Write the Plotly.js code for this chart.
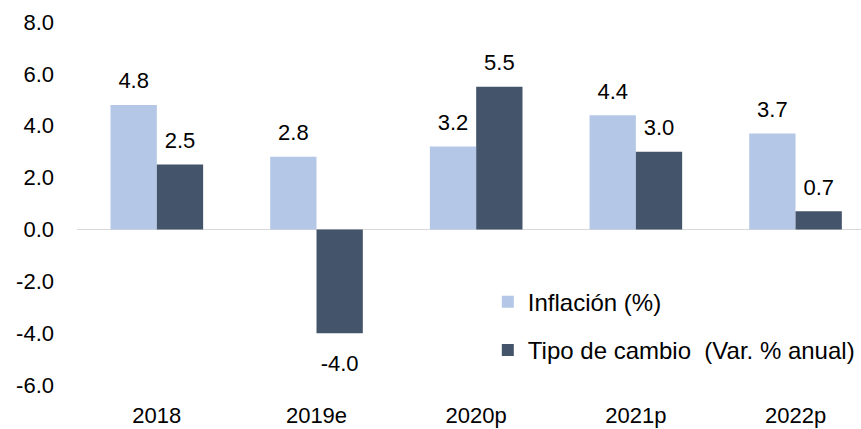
<!DOCTYPE html>
<html><head><meta charset="utf-8">
<script src="https://cdn.plot.ly/plotly-3.0.1.min.js"></script>
<style>html,body{margin:0;padding:0;background:#fff}</style>
</head><body><div id="chart" style="width:861px;height:429px"></div>
<script>
const categories = ["2018", "2019e", "2020p", "2021p", "2022p"];
const inflacion = [4.8, 2.8, 3.2, 4.4, 3.7];
const tipoCambio = [2.5, -4.0, 5.5, 3.0, 0.7];
const yTicks = [-6, -4, -2, 0, 2, 4, 6, 8];

const font = {family: "Liberation Sans, Arial, sans-serif", size: 22, color: "#000"};
const gap = 0.42;

function labelTrace(values, group) {
  return {type: "scatter", mode: "markers+text", orientation: "v", offsetgroup: group,
          x: categories, y: values, text: values.map(v => v.toFixed(1)),
          textposition: values.map(v => v < 0 ? "bottom center" : "top center"),
          textfont: font, marker: {size: values.map(v => v < 0 ? 32 : 16), opacity: 0}, showlegend: false,
          hoverinfo: "skip", cliponaxis: false};
}

const data = [
  {type: "bar", name: "Inflación (%)", x: categories, y: inflacion, legendgroup: "a", offsetgroup: "a",
   marker: {color: "#B4C7E7"}},
  {type: "bar", name: "Tipo de cambio  (Var. % anual)", x: categories, y: tipoCambio, legendgroup: "b", offsetgroup: "b",
   marker: {color: "#44546A"}},
  labelTrace(inflacion, "a"),
  labelTrace(tipoCambio, "b")
];
const layout = {
  width: 861, height: 429,
  margin: {l: 77, r: 0, t: 22, b: 44},
  paper_bgcolor: "#fff", plot_bgcolor: "#fff",
  font: font,
  barmode: "group", bargap: gap, bargroupgap: 0,
  scattermode: "group", scattergap: gap,
  showlegend: true,
  legend: {x: 0.524, y: 0.29, xanchor: "left", yanchor: "top", font: {family: font.family, size: 24, color: "#000"},
           bgcolor: "rgba(0,0,0,0)", traceorder: "grouped", tracegroupgap: 14, itemwidth: 30},
  xaxis: {type: "category", range: [-0.5, 4.41], showgrid: false, showline: false, ticks: "",
          ticklabelstandoff: 15, tickfont: font, fixedrange: true},
  yaxis: {range: [-6, 8], tickvals: yTicks, ticktext: yTicks.map(v => v.toFixed(1)),
          showgrid: false, showline: false, zeroline: true, zerolinecolor: "#D9D9D9", zerolinewidth: 1.5,
          ticks: "", ticklabelstandoff: 22, tickfont: font, fixedrange: true}
};
Plotly.newPlot("chart", data, layout, {displayModeBar: false, staticPlot: true});
</script></body></html>
